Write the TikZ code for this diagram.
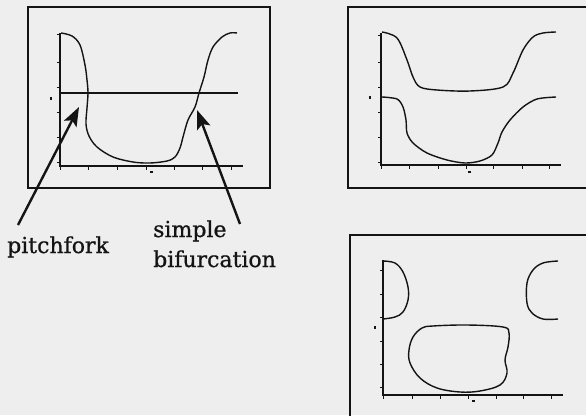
\documentclass[tikz,border=0pt]{standalone}
\usepackage{fontspec}
\setmainfont{DejaVu Serif}
\newfontfamily\lblfont{DejaVu Serif}[FakeBold=0.8]
\usetikzlibrary{arrows.meta}
\definecolor{paper}{RGB}{238,238,238}
\definecolor{ink}{RGB}{20,20,20}
\tikzset{
  frame/.style={draw=ink,line width=2.6pt},
  axis/.style={draw=ink,line width=1.1pt},
  tickmark/.style={draw=ink,line width=0.8pt},
  curve/.style={draw=ink,line width=1.4pt,line join=round},
  pointer/.style={draw=ink,line width=2.4pt,-{Stealth[length=19pt,width=14pt,inset=4pt]}},
  lbl/.style={font=\lblfont\fontsize{22}{26}\selectfont,text=ink,inner sep=0pt},
}
\begin{document}
\begin{tikzpicture}[x=1pt,y=-1pt]
\path[use as bounding box,fill=paper] (0,0) rectangle (586,415);
\begin{scope}
\clip (0,0) rectangle (586,415);
% ---------- frames
\draw[frame] (28,7) rectangle (270,188);
\draw[frame] (348,7) rectangle (600,188);
\draw[frame] (350,235) rectangle (600,430);

% ---------- box 1 axes
\draw[axis] (60,33) -- (60,166) -- (243,166);
\foreach \y in {34,62,87,112,137,162} \draw[tickmark] (57,\y) -- (61,\y);
\foreach \x in {60,88,117,146,174,202,231} \draw[tickmark] (\x,166) -- (\x,170);
\fill[ink] (50,97) rectangle (52,100);
\fill[ink] (150,171) rectangle (153,173);
\draw[axis,line width=1.3pt] (60,93) -- (238,93);
\draw[curve] plot[smooth,tension=0.55] coordinates {
 (61,33) (72,36) (80,45) (85,65) (87,80) (88,93) (87,108) (86,124) (89,136)
 (97,147) (113,157) (133,162) (150,163) (167,161) (175,157) (180,148)
 (183,137) (188,120) (195,107) (199,93) (204,77) (208,60) (213,47) (222,37) (230,33) (237,33)};

% ---------- box 2 axes
\draw[axis] (381,33) -- (381,165) -- (561,165);
\foreach \y in {35,62,87,112,137,162} \draw[tickmark] (378,\y) -- (382,\y);
\foreach \x in {381,409,438,466,493,522,549} \draw[tickmark] (\x,165) -- (\x,169);
\fill[ink] (369,96) rectangle (371,99);
\fill[ink] (468,171) rectangle (471,173);
\draw[curve] plot[smooth,tension=0.55] coordinates {
 (382,32) (397,38) (407,60) (413,77) (420,87) (437,90) (470,91) (503,87)
 (513,73) (523,50) (533,37) (543,33) (556,32)};
\draw[curve] plot[smooth,tension=0.5] coordinates {
 (382,97) (397,99) (403,107) (406,120) (407,133) (413,143) (427,153) (447,160)
 (465,163) (480,161) (492,155) (498,143) (502,132) (510,120) (523,107) (537,99) (556,97)};

% ---------- box 3 axes
\draw[axis] (383,260) -- (383,395) -- (563,395);
\foreach \y in {270,294,317,341,364,387} \draw[tickmark] (380,\y) -- (384,\y);
\foreach \x in {383,412,440,468,496,523,551} \draw[tickmark] (\x,395) -- (\x,399);
\fill[ink] (374,326) rectangle (376,329);
\fill[ink] (472,400) rectangle (475,402);
\draw[curve] plot[smooth,tension=0.6] coordinates {
 (383,261) (395,263) (403,272) (408,287) (408,300) (403,312) (395,317) (383,319)};
\draw[curve] plot[smooth,tension=0.6] coordinates {
 (558,261) (543,263) (533,270) (527,283) (527,303) (532,313) (543,319) (558,319)};
\draw[curve] plot[smooth cycle,tension=0.6] coordinates {
 (433,326) (467,325) (503,327) (509,333) (508,347) (505,360) (507,373) (500,385)
 (480,391) (460,392) (437,388) (420,378) (410,363) (409,350) (413,337) (422,328)};
\end{scope}

% ---------- labels and pointers
\node[lbl,anchor=base west] (pf) at (7,253) {pitchfork};
\node[lbl,anchor=base west] (sb1) at (153,237) {simple};
\node[lbl,anchor=base west] (sb2) at (153,267) {bifurcation};
\coordinate (pftail) at (18,225);
\coordinate (pftip) at (79,107);
\coordinate (sbtail) at (240,224);
\coordinate (sbtip) at (197,110);
\draw[pointer] (pftail) -- (pftip);
\draw[pointer] (sbtail) -- (sbtip);
\end{tikzpicture}
\end{document}
